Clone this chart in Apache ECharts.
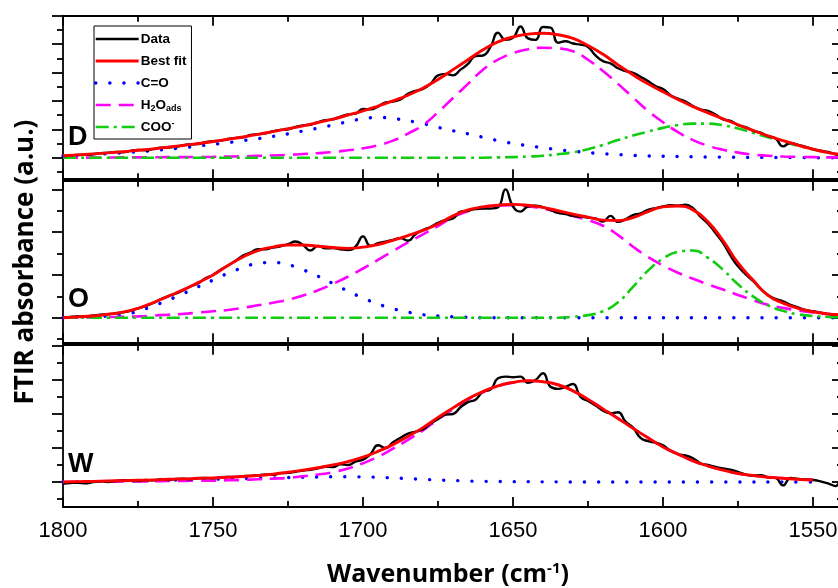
<!DOCTYPE html>
<html><head><meta charset="utf-8">
<script src="https://cdn.jsdelivr.net/npm/echarts@6/dist/echarts.min.js"></script>
<style>html,body{margin:0;padding:0;background:#fff}#c{width:838px;height:588px}</style>
</head><body><div id="c"></div>
<script>
// ---------- data ----------
const wavenumbers = [1800,1795,1790,1785,1780,1775,1770,1765,1760,1755,1750,1745,1740,1735,1730,1725,1720,1715,1710,1705,1700,1695,1690,1685,1680,1675,1670,1665,1660,1655,1650,1645,1640,1635,1630,1625,1620,1615,1610,1605,1600,1595,1590,1585,1580,1575,1570,1565,1560,1555,1550,1545,1540];
const wavenumbersData = [
1800,1797.5,1795,1792.5,1790,1787.5,1785,1782.5,1780,1777.5,
1775,1772.5,1770,1767.5,1765,1762.5,1760,1757.5,1755,1752.5,
1750,1747.5,1745,1742.5,1740,1737.5,1735,1732.5,1730,1727.5,
1725,1722.5,1720,1717.5,1715,1712.5,1710,1707.5,1705,1702.5,
1700,1697.5,1695,1692.5,1690,1687.5,1685,1682.5,1680,1677.5,
1675,1672.5,1670,1667.5,1665,1662.5,1660,1657.5,1655,1652.5,
1650,1647.5,1645,1642.5,1640,1637.5,1635,1632.5,1630,1627.5,
1625,1622.5,1620,1617.5,1615,1612.5,1610,1607.5,1605,1602.5,
1600,1597.5,1595,1592.5,1590,1587.5,1585,1582.5,1580,1577.5,
1575,1572.5,1570,1567.5,1565,1562.5,1560,1557.5,1555,1552.5,
1550,1547.5,1545,1542.5,1540];

const xTickValues = [1550,1600,1650,1700,1750,1800];
const xTickLabels = ['1550','1600','1650','1700','1750','1800'];
const xMinorTicks = [1575,1625,1675,1725,1775];
const panelNames = ['D','O','W'];
const seriesNames = ['Data','Best fit','C=O','H2O','COO'];

// Panel D
const dData = [
0.05,0.08,0.10,0.10,0.12,0.16,0.17,0.20,0.19,0.24,
0.27,0.26,0.30,0.35,0.36,0.38,0.44,0.47,0.48,0.55,
0.58,0.60,0.66,0.70,0.72,0.80,0.83,0.86,0.93,0.98,
1.00,1.08,1.14,1.16,1.25,1.32,1.35,1.45,1.52,1.55,
1.72,1.70,1.80,1.95,1.98,2.05,2.25,2.35,2.42,2.60,
2.90,2.95,2.90,3.10,3.30,3.58,3.60,3.90,4.40,4.15,
4.22,4.62,4.20,4.15,4.60,4.58,4.05,4.10,4.02,3.98,
3.90,3.60,3.40,3.32,3.15,3.05,2.99,2.85,2.70,2.52,
2.42,2.20,2.08,1.98,1.82,1.70,1.65,1.52,1.35,1.30,
1.15,1.08,0.95,0.88,0.76,0.68,0.40,0.52,0.45,0.38,
0.30,0.25,0.20,0.12,0.10];
const dFit = [0.07,0.10,0.13,0.17,0.21,0.26,0.31,0.37,0.43,0.50,0.57,0.65,0.73,0.82,0.92,1.02,1.12,1.24,1.36,1.50,1.65,1.82,2.00,2.20,2.45,2.75,3.10,3.45,3.80,4.08,4.25,4.35,4.38,4.33,4.20,3.95,3.64,3.27,2.92,2.60,2.32,2.05,1.80,1.58,1.37,1.16,0.96,0.77,0.60,0.44,0.30,0.18,0.10];
const dCO = [0.06,0.08,0.11,0.14,0.17,0.21,0.25,0.30,0.35,0.41,0.47,0.53,0.60,0.67,0.75,0.84,0.94,1.04,1.15,1.27,1.37,1.42,1.38,1.30,1.20,1.07,0.95,0.84,0.72,0.60,0.50,0.42,0.35,0.28,0.23,0.18,0.14,0.11,0.08,0.06,0.05,0.04,0.03,0.025,0.02,0.015,0.01,0.01,0.005,0.005,0,0,0];
const dH2O = [0,0,0.005,0.005,0.01,0.01,0.015,0.02,0.02,0.025,0.03,0.04,0.05,0.065,0.08,0.10,0.13,0.16,0.20,0.26,0.33,0.44,0.60,0.85,1.15,1.60,2.10,2.60,3.10,3.45,3.68,3.82,3.87,3.85,3.75,3.45,3.05,2.60,2.12,1.65,1.25,0.90,0.62,0.42,0.28,0.18,0.11,0.07,0.04,0.03,0.02,0.01,0.01];
const dCOO = [0,0,0,0,0,0,0,0,0,0,0,0,0,0,0,0,0,0,0,0,0,0,0,0,0,0,0,0,0,0.01,0.02,0.04,0.07,0.12,0.19,0.30,0.45,0.62,0.78,0.92,1.05,1.15,1.20,1.20,1.14,1.03,0.88,0.72,0.57,0.42,0.29,0.18,0.10];

// Panel O
const oData = [
0.00,0.02,0.03,0.03,0.05,0.07,0.08,0.10,0.13,0.16,
0.22,0.27,0.34,0.43,0.50,0.56,0.64,0.73,0.80,0.92,
1.00,1.12,1.22,1.33,1.45,1.52,1.60,1.60,1.64,1.67,
1.72,1.78,1.70,1.57,1.68,1.62,1.63,1.60,1.58,1.66,
1.90,1.68,1.74,1.78,1.82,1.86,1.80,1.95,2.05,2.12,
2.22,2.28,2.32,2.48,2.50,2.54,2.55,2.55,2.58,3.00,
2.60,2.48,2.60,2.62,2.58,2.52,2.45,2.42,2.38,2.36,
2.34,2.32,2.25,2.38,2.24,2.30,2.40,2.44,2.52,2.56,
2.60,2.63,2.62,2.64,2.56,2.36,2.20,1.98,1.75,1.45,
1.20,1.02,0.86,0.68,0.53,0.44,0.38,0.30,0.24,0.18,
0.15,0.12,0.09,0.07,0.06];
const oFit = [0.00,0.02,0.04,0.08,0.13,0.22,0.35,0.50,0.65,0.82,1.00,1.22,1.42,1.57,1.65,1.70,1.70,1.67,1.64,1.62,1.65,1.71,1.81,1.92,2.04,2.19,2.38,2.52,2.59,2.63,2.65,2.63,2.58,2.50,2.42,2.35,2.28,2.27,2.34,2.48,2.59,2.61,2.52,2.24,1.80,1.28,0.88,0.52,0.34,0.22,0.14,0.09,0.06];
const oCO = [0,0.01,0.02,0.04,0.07,0.15,0.27,0.41,0.56,0.72,0.88,1.04,1.17,1.27,1.29,1.24,1.12,0.97,0.80,0.62,0.46,0.32,0.21,0.13,0.07,0.04,0.02,0.01,0,0,0,0,0,0,0,0,0,0,0,0,0,0,0,0,0,0,0,0,0,0,0,0,0];
const oH2O = [0,0.005,0.01,0.015,0.02,0.03,0.05,0.07,0.09,0.12,0.15,0.18,0.23,0.29,0.35,0.42,0.52,0.64,0.79,0.96,1.15,1.35,1.56,1.76,1.95,2.14,2.35,2.49,2.58,2.62,2.63,2.60,2.55,2.47,2.38,2.28,2.15,1.93,1.66,1.42,1.22,1.05,0.91,0.78,0.66,0.53,0.41,0.30,0.23,0.17,0.12,0.08,0.06];
const oCOO = [0,0,0,0,0,0,0,0,0,0,0,0,0,0,0,0,0,0,0,0,0,0,0,0,0,0,0,0,0,0,0,0,0,0,0.02,0.06,0.15,0.36,0.72,1.10,1.38,1.54,1.57,1.40,1.12,0.78,0.50,0.29,0.16,0.08,0.04,0.02,0.01];

// Panel W
const wData = [
-0.05,-0.03,-0.02,-0.04,0.00,0.02,0.00,0.03,0.05,0.04,
0.03,0.06,0.05,0.08,0.06,0.09,0.10,0.08,0.11,0.12,
0.11,0.14,0.15,0.15,0.17,0.18,0.20,0.22,0.21,0.26,
0.27,0.30,0.34,0.36,0.40,0.45,0.44,0.52,0.50,0.60,
0.66,0.82,1.08,1.00,1.17,1.30,1.42,1.48,1.55,1.72,
1.85,1.98,2.00,2.20,2.35,2.42,2.66,2.72,3.05,3.10,
3.08,3.10,2.92,3.00,3.20,2.80,2.74,2.80,2.88,2.50,
2.38,2.25,2.10,2.02,2.05,1.78,1.60,1.30,1.20,1.16,
1.08,0.92,0.82,0.78,0.70,0.55,0.50,0.44,0.40,0.36,
0.30,0.22,0.18,0.20,0.14,0.12,-0.10,0.12,0.09,0.07,
0.06,0.02,-0.04,-0.12,0.60];
const wFit = [0.00,0.01,0.02,0.03,0.04,0.05,0.06,0.08,0.09,0.11,0.12,0.14,0.16,0.19,0.23,0.29,0.35,0.42,0.50,0.60,0.73,0.90,1.10,1.34,1.60,1.90,2.18,2.45,2.66,2.83,2.93,2.98,2.95,2.86,2.68,2.43,2.15,1.87,1.58,1.30,1.03,0.82,0.62,0.47,0.35,0.25,0.19,0.14,0.11,0.08,0.06,null,null];
const wCO = [0,0.005,0.01,0.02,0.025,0.03,0.04,0.05,0.06,0.07,0.08,0.09,0.10,0.11,0.12,0.13,0.14,0.15,0.155,0.155,0.15,0.14,0.12,0.10,0.08,0.06,0.045,0.03,0.02,0.015,0.01,0.01,0.005,0.005,0,0,0,0,0,0,0,0,0,0,0,0,0,0,0,0,0,null,null];
const wH2O = [0,0.005,0.01,0.01,0.015,0.02,0.02,0.03,0.03,0.04,0.04,0.05,0.06,0.08,0.10,0.12,0.17,0.22,0.29,0.40,0.55,0.74,0.98,1.24,1.52,1.84,2.14,2.42,2.64,2.82,2.92,2.97,2.95,2.86,2.68,2.43,2.15,1.87,1.58,1.30,1.03,0.82,0.62,0.47,0.35,0.25,0.19,0.14,0.11,0.08,0.06,null,null];

// ---------- layout / style ----------
const panels = [
  {name:'D', top:15.7, height:163.5, min:-0.757, max:5, major:[0,1,2,3,4,5], minor:[-0.5,0.5,1.5,2.5,3.5,4.5],
   data:dData, fit:dFit, co:dCO, h2o:dH2O, coo:dCOO, labelY:138},
  {name:'O', top:180.8, height:162.4, min:-0.596, max:3.2, major:[0,1,2,3], minor:[-0.5,0.5,1.5,2.5],
   data:oData, fit:oFit, co:oCO, h2o:oH2O, coo:oCOO, labelY:300},
  {name:'W', top:344.8, height:162.2, min:-0.735, max:4.035, major:[0,1,2,3,4], minor:[-0.5,0.5,1.5,2.5,3.5],
   data:wData, fit:wFit, co:wCO, h2o:wH2O, coo:null, labelY:465}
];
const FONT_TICK = '"Liberation Sans Narrow", "Liberation Sans", Arial, sans-serif';
const FONT_BOLD = '"Open Sans", Lato, sans-serif';
const LW = 1.8;

const grids = [], xAxes = [], yAxes = [], series = [];
panels.forEach((p, g) => {
  grids.push({left:63, width:780, top:p.top, height:p.height, outerBoundsMode:'none', containLabel:false});
  const isLast = g === panels.length - 1;
  const mkX = (pos, ticks, len, line, labels) => ({
    gridIndex:g, type:'value', position:pos, inverse:true, min:1540, max:1800,
    axisLine:{show:line, onZero:false, lineStyle:{color:'#000', width:LW}},
    axisTick:{show:true, inside:true, length:len, customValues:ticks, lineStyle:{color:'#000', width:LW}},
    axisLabel: labels ? {show:true, customValues:xTickValues, margin:13, color:'#000', fontSize:22, fontFamily:FONT_TICK,
        formatter: v => xTickLabels[xTickValues.indexOf(v)]} : {show:false},
    splitLine:{show:false}
  });
  xAxes.push(mkX('bottom', xTickValues, 10, true, isLast));
  xAxes.push(mkX('bottom', xMinorTicks, 6, false, false));
  xAxes.push(mkX('top', xTickValues, 10, true, false));
  xAxes.push(mkX('top', xMinorTicks, 6, false, false));
  const mkY = (pos, ticks, len, inside, line) => ({
    gridIndex:g, type:'value', position:pos, min:p.min, max:p.max,
    axisLine:{show:line, onZero:false, lineStyle:{color:'#000', width:LW}},
    axisTick:{show:true, inside:inside, length:len, customValues:ticks, lineStyle:{color:'#000', width:LW}},
    axisLabel:{show:false}, splitLine:{show:false}
  });
  yAxes.push(mkY('left', p.major, 11, false, true));
  yAxes.push(mkY('left', p.minor, 6, false, false));
  yAxes.push(mkY('right', p.major, 11, true, true));
  yAxes.push(mkY('right', p.minor, 6, true, false));

  const base = {type:'line', xAxisIndex:g*4, yAxisIndex:g*4, symbol:'none', smooth:true, silent:true, animation:false};
  const pairs = (xs, ys) => xs.map((x, i) => [x, ys[i]]);
  series.push(Object.assign({}, base, {name:'C=O', data:pairs(wavenumbers, p.co),
    lineStyle:{color:'#0000ff', width:3.4, type:[0.1, 14], cap:'round'}, itemStyle:{color:'#0000ff'}}));
  series.push(Object.assign({}, base, {name:'H2O', data:pairs(wavenumbers, p.h2o),
    lineStyle:{color:'#ff00ff', width:2.6, type:[15, 8]}, itemStyle:{color:'#ff00ff'}}));
  if (p.coo) series.push(Object.assign({}, base, {name:'COO', data:pairs(wavenumbers, p.coo),
    lineStyle:{color:'#11cc11', width:2.6, type:[13, 5, 3, 5]}, itemStyle:{color:'#11cc11'}}));
  series.push(Object.assign({}, base, {name:'Data', data:pairs(wavenumbersData, p.data),
    lineStyle:{color:'#000000', width:2.4}, itemStyle:{color:'#000000'}}));
  series.push(Object.assign({}, base, {name:'Best fit', data:pairs(wavenumbers, p.fit),
    lineStyle:{color:'#ff0000', width:2.9}, itemStyle:{color:'#ff0000'}}));
});

const legendText = {'H2O':'H{sub|2}O{sub|ads}', 'COO':'COO{sup|-}'};
const graphics = panels.map(p => ({
  type:'text', x:68, y:p.labelY, silent:true,
  style:{text:p.name, fill:'#000', font:'bold 27px "Liberation Sans", Arial, sans-serif', align:'left', verticalAlign:'middle'}
}));
graphics.push({type:'text', x:26, y:262, rotation:Math.PI/2, silent:true,
  style:{text:'FTIR absorbance (a.u.)', fill:'#000', fontSize:26, fontWeight:'bold', fontFamily:FONT_BOLD, align:'center', verticalAlign:'middle'}});
graphics.push({type:'text', x:448, y:575, silent:true,
  style:{text:'Wavenumber (cm{sup|-1})', fill:'#000', fontSize:25, fontWeight:'bold', fontFamily:FONT_BOLD, align:'center', verticalAlign:'middle',
    lineHeight:28, rich:{sup:{fontSize:15, fontWeight:'bold', fontFamily:FONT_BOLD, verticalAlign:'top', lineHeight:14}}}});

const chart = echarts.init(document.getElementById('c'), null, {renderer:'canvas'});
chart.setOption({
  animation:false,
  backgroundColor:'#fff',
  grid:grids, xAxis:xAxes, yAxis:yAxes, series:series,
  legend:{
    left:94, top:26, orient:'vertical', itemWidth:43, itemHeight:14, itemGap:6,
    padding:[5, 5, 4, 0], borderColor:'#000', borderWidth:1, selectedMode:false,
    data:seriesNames,
    formatter: n => legendText[n] || n,
    itemStyle:{opacity:0},
    lineStyle:{width:'inherit'},
    textStyle:{color:'#000', fontSize:13.5, fontWeight:'bold', fontFamily:'"Liberation Sans", Arial, sans-serif', lineHeight:16, padding:[0,0,0,-3],
      rich:{sub:{fontSize:9, fontWeight:'bold', verticalAlign:'bottom', lineHeight:9},
            sup:{fontSize:9, fontWeight:'bold', verticalAlign:'top', lineHeight:9}}}
  },
  graphic:graphics
});
</script></body></html>
